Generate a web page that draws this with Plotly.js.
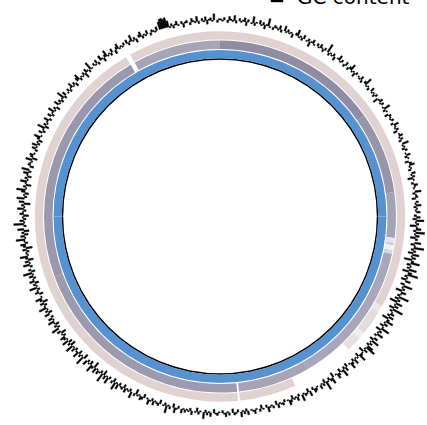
<!DOCTYPE html>
<html>
<head>
<meta charset="utf-8">
<script src="https://cdn.plot.ly/plotly-3.0.1.min.js"></script>
<style>
html,body{margin:0;padding:0;background:#ffffff;overflow:hidden}
#chart{width:427px;height:425px}
</style>
</head>
<body>
<div id="chart"></div>
<script>
// ---------------- DATA ----------------
// GC content deviation from the genome mean (percentage points),
// one window every 0.5 degree, clockwise from the top
const gcDeviation = [
  1,-1,2,0,-2,3,1,-1,4,-2,0,2,-1,1,3,-3,2,0,-1,5,
  -2,1,0,3,-1,2,-3,1,6,-1,0,-2,2,1,-1,3,-2,0,4,-1,
  2,-1,1,-3,0,2,5,-1,1,-2,3,0,-1,2,-4,1,3,-1,0,2,
  -1,3,1,-2,2,0,7,-2,1,-1,2,-3,0,1,4,-1,2,0,-2,3,
  0,-2,2,5,-1,1,-3,2,0,1,-1,3,-2,0,2,6,-1,1,-2,0,
  3,-1,1,-2,2,0,-4,1,3,-1,2,0,-1,5,-2,1,0,-3,2,1,
  -1,2,0,-2,4,1,-1,2,-3,0,1,3,-1,2,-2,0,5,-1,1,-2,
  2,0,-1,3,-2,1,0,-3,2,4,-1,1,-2,0,3,-1,2,-4,1,0,
  -2,3,1,-1,0,5,-2,1,2,-3,0,2,-1,4,-2,1,-1,3,0,-2,
  3,-3,6,-1,2,-5,1,4,-2,7,-1,3,-4,2,0,5,-3,1,8,-2,
  2,-4,5,-1,3,-6,2,7,-3,1,-2,6,-5,3,9,-2,1,-4,4,0,
  -3,7,-1,2,-5,4,1,-2,8,-3,2,-6,5,-1,3,-4,9,-2,1,3,
  -2,4,-5,2,6,-1,3,-3,1,7,-4,2,-1,5,-2,0,3,-3,6,-1,
  2,-2,5,8,-1,3,-4,1,2,6,-3,1,-1,4,-2,2,5,-1,0,-3,
  3,-2,6,1,-3,2,4,-1,0,-4,5,2,-2,1,7,-3,2,-1,3,0,
  -1,2,3,-2,0,4,-3,1,2,-1,5,0,-2,3,-1,1,-3,2,4,-1,
  0,-2,2,1,-1,3,-3,0,2,-1,1,4,-2,0,1,-3,2,0,-1,3,
  1,-1,0,3,-2,2,-1,4,0,-2,1,2,-3,0,2,-1,3,1,-2,0,
  -1,2,1,-3,0,3,-1,2,-2,5,0,-1,2,-3,1,0,3,-2,1,-1,
  2,-1,3,0,-2,1,4,-3,0,2,-1,6,-2,1,0,-3,2,1,-1,3,
  -2,1,4,-1,0,-3,2,3,-1,1,-4,2,0,5,-2,1,-1,3,-3,2,
  1,-2,4,-1,6,-3,2,0,-2,5,-1,3,-4,7,-2,1,3,-1,4,-5,
  2,6,-3,1,-2,4,0,-4,7,-1,2,-3,5,1,-2,3,-1,6,-4,2,
  -3,5,-1,2,4,-2,1,-4,3,0,6,-2,2,-3,1,5,-1,3,-2,0,
  4,-3,2,-1,6,1,-2,3,-4,2,5,-1,0,-3,3,1,-2,6,-1,2,
  -3,4,1,-2,3,-1,7,-3,2,0,-2,5,-1,3,-4,2,6,-1,1,-2,
  3,-5,2,4,-2,1,7,-1,3,-3,2,-4,5,0,-2,8,-1,3,-2,1,
  -4,3,1,-2,5,-1,2,-5,4,0,6,-2,1,-3,3,7,-1,2,-4,1,
  5,-1,2,-3,1,4,-2,6,0,-3,2,1,-1,5,-4,2,3,-1,0,-2,
  3,-1,4,-2,1,-3,2,5,-1,0,3,-2,1,6,-3,2,-1,1,4,-2,
  0,3,-2,1,5,-1,2,-3,0,4,-1,2,-2,1,6,-2,3,0,-1,2,
  -2,1,4,-1,2,-3,0,3,5,-2,1,-1,2,-4,3,1,-2,6,-1,0,
  2,-1,3,-2,0,4,1,-3,2,5,-1,1,-2,3,0,-3,2,4,-1,1,
  -1,2,0,3,-2,1,5,-1,2,-3,0,2,4,-2,1,-1,3,0,-2,2,
  1,-1,3,0,6,8,9,7,8,5,-1,2,-2,1,3,-1,0,2,-3,1,
  2,0,-2,3,1,-1,4,-2,0,2,-1,3,-3,1,2,-1,5,0,-2,1
];
const GC_STEP_DEG = 0.5;   // window size in degrees
const gcPosition = gcDeviation.map((_, i) => i * GC_STEP_DEG);

// outer (pink) feature track: start / end angle and colour
const pinkStart = [0, 119, 121, 129, 131, 156, 174.4, 331];
const pinkEnd   = [119, 121, 129, 131, 136, 173.8, 329.5, 360];
const pinkColor = ['#e1d2d2','#eee5e5','#e6dada','#f2ecec','#eadfdf','#e1d2d2','#e1d2d2','#e1d2d2'];

// middle (grey) feature track
const greyStart = [0, 55, 82, 97, 98.5, 99.5, 101, 102.3, 150, 174.4, 250, 331];
const greyEnd   = [55, 82, 97, 98.5, 99.5, 101, 102.3, 150, 173.8, 250, 329.5, 360];
const greyColor = ['#8f8da3','#9795aa','#a4a2b6','#e6e5ee','#d0cfdb','#f2f2f6','#d6d5e0','#a8a6ba','#a6a4b6','#9c9aae','#9a98ac','#a6a4b6'];

// inner (blue) feature track
const blueStart = [0, 90, 180, 270];
const blueEnd   = [90, 180, 270, 360];
const blueColor = ['#5592cf','#5592cf','#5592cf','#5592cf'];

// inner axis circle
const axisStart = [0, 90, 180, 270];
const axisEnd   = [90, 180, 270, 360];

// ---------------- STYLE / GEOMETRY ----------------
const W = 427, H = 425;
const CX = 220, CY = 216.5, RPX = 207;   // polar centre & radius in pixels
const GC_BASE = 196.5, GC_SCALE = 1.25;
const RING = {
  axis: {base: 156.8, h: 1.5},
  blue: {base: 158.2, h: 8.3},
  grey: {base: 167.5, h: 8.5},
  pink: {base: 177.0, h: 8.2}
};

function ringTrace(starts, ends, colors, geom, name) {
  return {
    type: 'barpolar',
    name: name,
    theta: starts.map((s, i) => (s + ends[i]) / 2),
    width: starts.map((s, i) => ends[i] - s),
    r: starts.map(() => geom.h),
    base: geom.base,
    marker: {color: colors, line: {width: 0}},
    showlegend: false,
    hoverinfo: 'skip'
  };
}

// GC content drawn as a fill between the mean line and each window's value
const gcTrace = {
  type: 'barpolar',
  name: 'GC content',
  theta: gcPosition.map(p => p + GC_STEP_DEG / 2),
  width: gcPosition.map(() => GC_STEP_DEG),
  r: gcDeviation.map(d => d * GC_SCALE),
  base: GC_BASE,
  marker: {color: '#000000', line: {color: '#000000', width: 0.4}},
  showlegend: true,
  hoverinfo: 'skip'
};

const data = [
  ringTrace(axisStart, axisEnd, axisStart.map(() => '#000000'), RING.axis, 'axis'),
  ringTrace(blueStart, blueEnd, blueColor, RING.blue, 'blue'),
  ringTrace(greyStart, greyEnd, greyColor, RING.grey, 'grey'),
  ringTrace(pinkStart, pinkEnd, pinkColor, RING.pink, 'pink'),
  gcTrace
];

const layout = {
  width: W, height: H,
  margin: {l: 0, r: 0, t: 0, b: 0, autoexpand: false},
  paper_bgcolor: '#ffffff',
  polar: {
    domain: {x: [(CX - RPX) / W, (CX + RPX) / W], y: [(H - CY - RPX) / H, (H - CY + RPX) / H]},
    bgcolor: 'rgba(0,0,0,0)',
    barmode: 'overlay',
    hole: 0,
    radialaxis: {range: [0, RPX], visible: false, showgrid: false},
    angularaxis: {visible: false, rotation: 90, direction: 'clockwise', showgrid: false}
  },
  showlegend: true,
  legend: {
    x: 257 / W, xanchor: 'left',
    y: 1.0094, yanchor: 'middle',
    font: {family: 'DejaVu Sans', size: 20, color: '#000000'},
    bgcolor: 'rgba(0,0,0,0)',
    itemwidth: 30
  }
};

Plotly.newPlot('chart', data, layout, {displayModeBar: false, staticPlot: true});
</script>
</body>
</html>
